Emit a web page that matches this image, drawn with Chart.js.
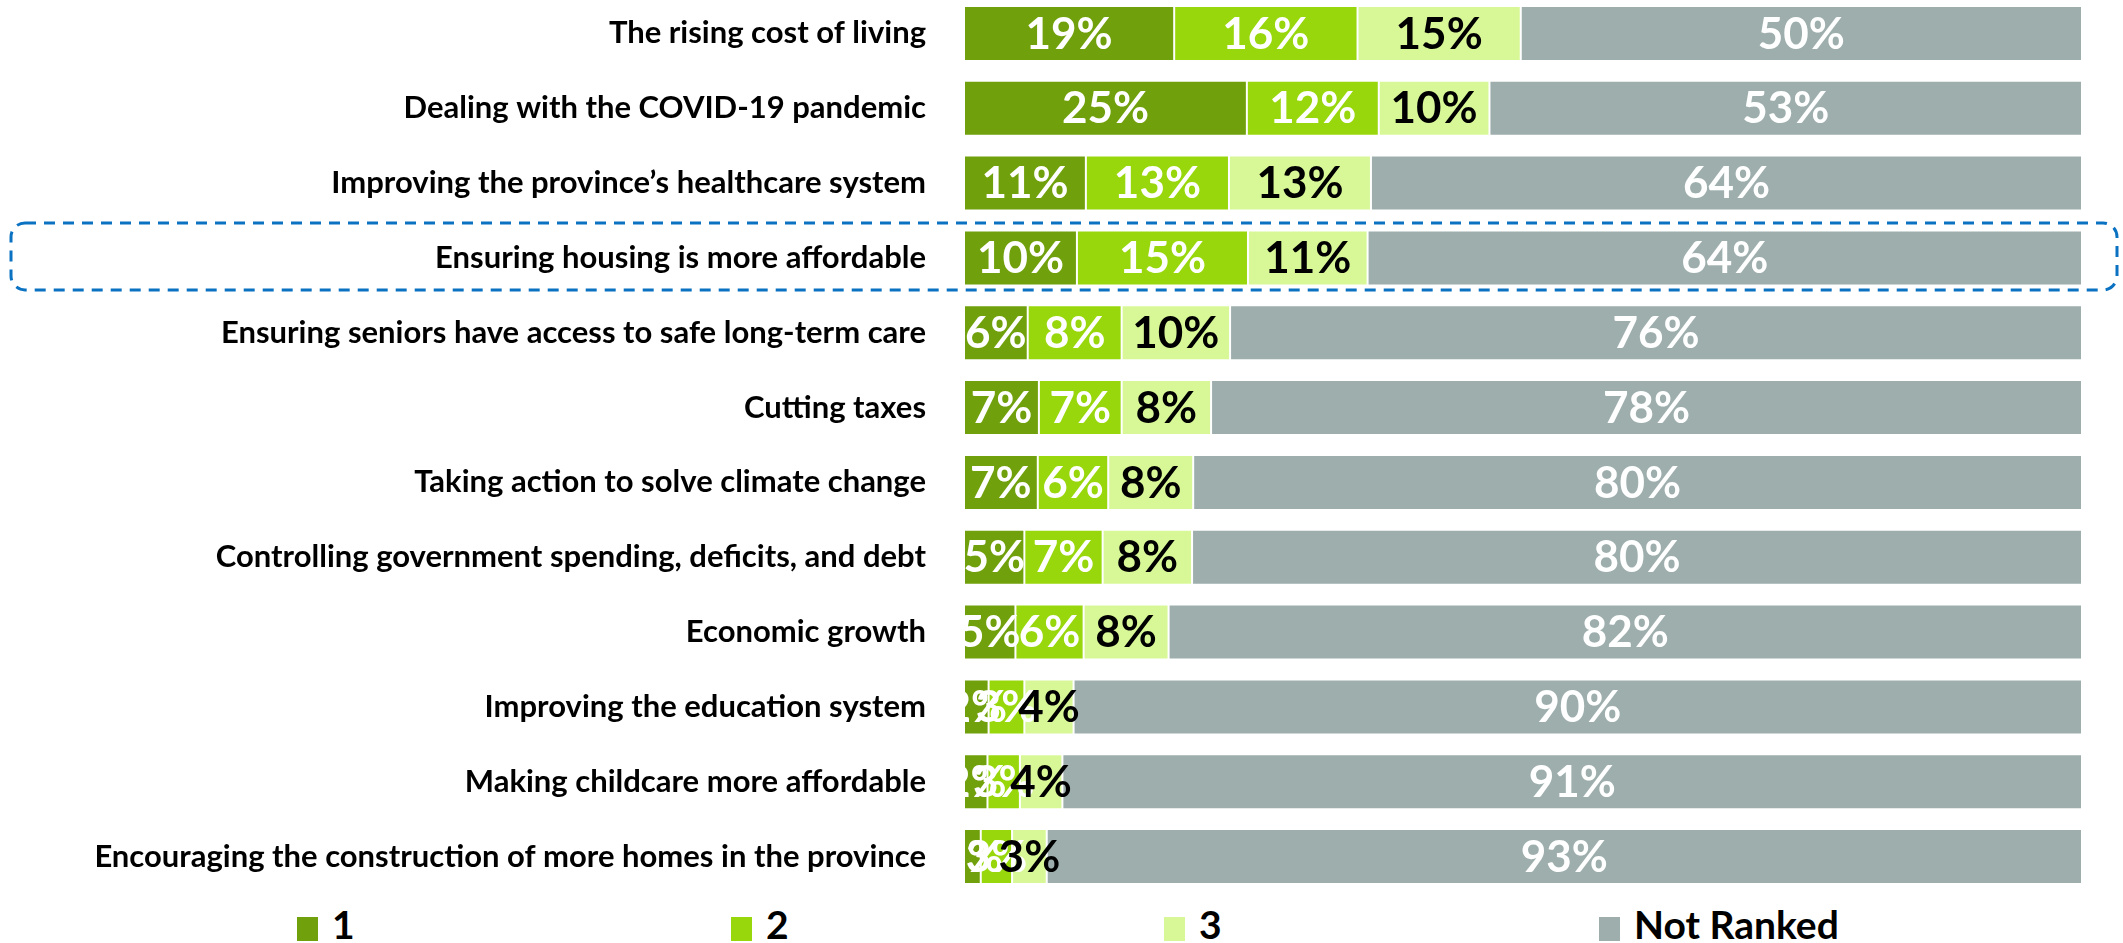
<!DOCTYPE html>
<html lang="en">
  <head>
    <meta charset="UTF-8" />
    <title>Top priorities - ranked</title>
    <script src="https://cdn.jsdelivr.net/npm/chart.js"></script>
    <style>
      body { margin: 0; background: #fff; overflow: hidden; font-family: Lato, sans-serif; }
      #wrap { position: absolute; left: 0; top: -4px; width: 2123px; height: 898px; }
      #legend { position: absolute; left: 0; top: 905px; width: 2123px; height: 38px; }
      .item { position: absolute; top: 0; display: flex; align-items: flex-end; height: 38px; }
      .swatch { width: 21px; height: 24px; margin-right: 14px; margin-bottom: 2px; }
      .item span { font-weight: 700; font-size: 39px; line-height: 38px; color: #000; }
    </style>
  </head>
  <body>
    <div id="wrap"><canvas id="rankChart"></canvas></div>
    <div id="legend"></div>

    <script>
      const categories = [
        'The rising cost of living',
        'Dealing with the COVID-19 pandemic',
        'Improving the province’s healthcare system',
        'Ensuring housing is more affordable',
        'Ensuring seniors have access to safe long-term care',
        'Cutting taxes',
        'Taking action to solve climate change',
        'Controlling government spending, deficits, and debt',
        'Economic growth',
        'Improving the education system',
        'Making childcare more affordable',
        'Encouraging the construction of more homes in the province',
      ]
      const seriesNames = ['1', '2', '3', 'Not Ranked']
      const rank1 = [18.8, 25.3, 10.9, 10.1, 5.7, 6.7, 6.6, 5.4, 4.6, 2.2, 2.1, 1.5]
      const rank2 = [16.4, 11.8, 12.8, 15.3, 8.4, 7.4, 6.3, 7.0, 6.1, 3.2, 2.9, 2.8]
      const rank3 = [14.6, 9.9, 12.7, 10.7, 9.7, 8.0, 7.6, 8.0, 7.6, 4.4, 3.8, 3.1]
      const notRanked = [50.2, 53.0, 63.6, 63.9, 76.2, 77.9, 79.5, 79.6, 81.7, 90.2, 91.2, 92.6]
      const highlightIndex = 3 // housing row gets the dashed box

      const colors = ['#70a00b', '#98d70b', '#d8f898', '#9daead']
      const labelColors = ['#fff', '#fff', '#000', '#fff']

      // percentage labels centred in each segment, clipped to the plot area
      const segmentLabels = {
        id: 'segmentLabels',
        afterDatasetsDraw(chart) {
          const ctx = chart.ctx
          const area = chart.chartArea
          ctx.save()
          ctx.beginPath()
          ctx.rect(area.left, area.top, area.right - area.left, area.bottom - area.top)
          ctx.clip()
          ctx.font = '700 44px Lato'
          ctx.textAlign = 'center'
          ctx.textBaseline = 'middle'
          chart.data.datasets.forEach((ds, i) => {
            ctx.fillStyle = labelColors[i]
            chart.getDatasetMeta(i).data.forEach((bar, j) => {
              const cx = (bar.x + bar.base) / 2
              ctx.fillText(Math.round(ds.data[j]) + '%', cx, bar.y + 1)
            })
          })
          ctx.restore()
        },
      }

      // dashed rounded box around the highlighted row
      const highlightBox = {
        id: 'highlightBox',
        afterDraw(chart) {
          const ctx = chart.ctx
          const cy = chart.scales.y.getPixelForValue(highlightIndex)
          const x0 = 11, x1 = 2117, y0 = cy - 35, y1 = cy + 32, r = 14
          ctx.save()
          ctx.strokeStyle = '#0b72c2'
          ctx.lineWidth = 3
          ctx.setLineDash([11, 8])
          ctx.beginPath()
          ctx.roundRect(x0, y0, x1 - x0, y1 - y0, r)
          ctx.stroke()
          ctx.restore()
        },
      }

      const seriesData = [rank1, rank2, rank3, notRanked]

      new Chart(document.getElementById('rankChart').getContext('2d'), {
        type: 'bar',
        data: {
          labels: categories,
          datasets: seriesData.map((d, i) => ({
            label: seriesNames[i],
            data: d,
            backgroundColor: colors[i],
            borderColor: 'rgba(255,255,255,0.35)',
            borderWidth: 1,
            borderSkipped: false,
            barPercentage: 0.735,
            categoryPercentage: 1,
          })),
        },
        options: {
          indexAxis: 'y',
          responsive: true,
          maintainAspectRatio: false,
          animation: false,
          layout: { padding: { left: 0, right: 41, top: 0, bottom: 0 } },
          plugins: {
            legend: { display: false },
            tooltip: { enabled: false },
          },
          scales: {
            x: { stacked: true, min: 0, max: 100, display: false },
            y: {
              stacked: true,
              grid: { display: false },
              border: { display: false },
              ticks: {
                padding: 30,
                color: '#000',
                font: { family: 'Lato', weight: '700', size: 31 },
              },
              afterFit(scale) {
                scale.width = 964
                // tick padding would otherwise shrink the plot vertically
                scale.paddingTop = 0
                scale.paddingBottom = 0
              },
            },
          },
        },
        plugins: [segmentLabels, highlightBox],
      })

      // legend
      const legendLeft = [297, 731, 1164, 1599]
      const legend = document.getElementById('legend')
      seriesNames.forEach((name, i) => {
        const item = document.createElement('div')
        item.className = 'item'
        item.style.left = legendLeft[i] + 'px'
        item.innerHTML = '<div class="swatch" style="background:' + colors[i] + '"></div><span>' + name + '</span>'
        legend.appendChild(item)
      })
    </script>
  </body>
</html>
